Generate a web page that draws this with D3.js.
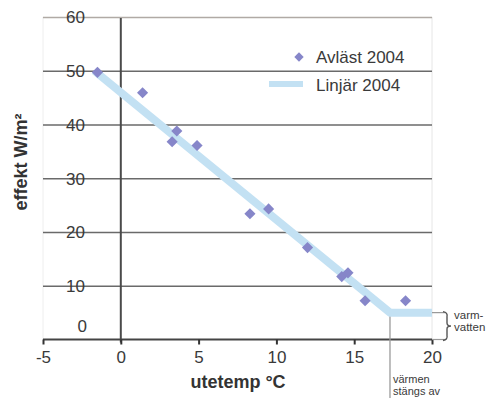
<!DOCTYPE html>
<html>
<head>
<meta charset="utf-8">
<script src="https://cdn.jsdelivr.net/npm/d3@7"></script>
<style>
  html, body { margin: 0; padding: 0; background: #fff; }
  svg { display: block; font-family: "Liberation Sans", Arial, Helvetica, sans-serif; }
</style>
</head>
<body>
<svg id="chart" width="492" height="398"></svg>
<script>
// ---- data ----
const tempValues   = [-1.5, 1.4, 3.6, 3.3, 4.9, 8.3, 9.5, 12.0, 14.2, 14.6, 15.7, 18.3];
const effektValues = [49.7, 45.9, 38.8, 36.8, 36.1, 23.4, 24.3, 17.1, 11.7, 12.4, 7.2, 7.2];
const lineTemp   = [-1.7, 17.3, 20];
const lineEffekt = [50, 5, 5];
const xTicks = [-5, 0, 5, 10, 15, 20];
const yTicks = [0, 10, 20, 30, 40, 50, 60];
const legendLabels = ["Avläst 2004", "Linjär 2004"];
const xTitle = "utetemp °C";
const yTitle = "effekt W/m²";
const noteRight = ["varm-", "vatten"];
const noteBottom = ["värmen", "stängs av"];

// ---- layout ----
const svg = d3.select("#chart");
const pLeft = 43, pRight = 432, pTop = 17, pBottom = 339.5;
const x = d3.scaleLinear().domain([-5, 20]).range([pLeft, pRight]);
const y = d3.scaleLinear().domain([0, 60]).range([pBottom, pTop]);

const textCol = "#3a3a3a";
const dotCol = "#8686c9";
const lineCol = "#c3e1f3";

// plot frame (faint)
svg.append("line").attr("x1", pLeft).attr("x2", pLeft).attr("y1", pTop).attr("y2", pBottom)
  .attr("stroke", "#eeeeee").attr("stroke-width", 1);
svg.append("line").attr("x1", pRight).attr("x2", pRight).attr("y1", pTop).attr("y2", pBottom)
  .attr("stroke", "#e6e6e6").attr("stroke-width", 1);

// horizontal gridlines + y labels via axis
const yAxis = d3.axisRight(y).tickValues(yTicks.filter(d => d > 0)).tickSize(pRight - pLeft).tickFormat(d3.format("d"));
const gy = svg.append("g").attr("transform", `translate(${pLeft},0)`).call(yAxis);
gy.select(".domain").remove();
gy.selectAll(".tick line")
  .attr("stroke", d => d === 60 ? "#b0aaa5" : "#6a6a6a")
  .attr("stroke-width", 1.6);
gy.selectAll(".tick text")
  .attr("x", 42).attr("dy", "0.35em").attr("text-anchor", "end")
  .attr("fill", textCol).attr("font-size", 17)
  .attr("font-family", "'Liberation Sans', Arial, sans-serif");
// zero label (above axis)
svg.append("text").attr("x", 87).attr("y", y(0) - 13).attr("dy", "0.35em")
  .attr("text-anchor", "end").attr("fill", textCol).attr("font-size", 17)
  .text(d3.format("d")(yTicks[0]));

// vertical y-axis line at x=0
svg.append("line").attr("x1", x(0)).attr("x2", x(0)).attr("y1", pTop + 1).attr("y2", pBottom + 3)
  .attr("stroke", "#4a4a4a").attr("stroke-width", 2);

// x axis
const xAxis = d3.axisBottom(x).tickValues(xTicks).tickSize(5).tickPadding(6).tickFormat(d3.format("d"));
const gx = svg.append("g").attr("transform", `translate(0,${pBottom})`).call(xAxis);
gx.select(".domain").attr("stroke", "#444").attr("stroke-width", 2).attr("d", `M${pLeft},0H${pRight}`);
gx.selectAll(".tick line").attr("stroke", "#333").attr("stroke-width", 2);
gx.selectAll(".tick text").attr("fill", textCol).attr("font-size", 17)
  .attr("font-family", "'Liberation Sans', Arial, sans-serif").text(d => d < 0 ? "-" + Math.abs(d) : d);

// knee vertical line
svg.append("line").attr("x1", x(lineTemp[1])).attr("x2", x(lineTemp[1]))
  .attr("y1", y(lineEffekt[1])).attr("y2", 398)
  .attr("stroke", "#9a9a9a").attr("stroke-width", 1.3);

// linear line
const lineGen = d3.line().x(d => x(d[0])).y(d => y(d[1]));
svg.append("path").datum(d3.zip(lineTemp, lineEffekt)).attr("d", lineGen)
  .attr("fill", "none").attr("stroke", lineCol).attr("stroke-width", 8)
  .attr("stroke-linejoin", "round");

// diamonds
const diamond = d3.symbol().type(d3.symbolSquare).size(62);
svg.append("g").selectAll("path").data(d3.zip(tempValues, effektValues)).join("path")
  .attr("d", diamond)
  .attr("transform", d => `translate(${x(d[0])},${y(d[1])}) rotate(45)`)
  .attr("fill", dotCol);

// legend
svg.append("path").attr("d", d3.symbol().type(d3.symbolSquare).size(44))
  .attr("transform", "translate(299,57) rotate(45)").attr("fill", dotCol);
svg.append("line").attr("x1", 269).attr("x2", 303).attr("y1", 84).attr("y2", 84)
  .attr("stroke", lineCol).attr("stroke-width", 6);
svg.selectAll(".leg").data(legendLabels).join("text")
  .attr("x", 316).attr("y", (d, i) => 57 + i * 28).attr("dy", "0.35em")
  .attr("fill", textCol).attr("font-size", 17).text(d => d);

// axis titles
svg.append("text").attr("x", 238).attr("y", 382).attr("dy", "0.35em").attr("text-anchor", "middle")
  .attr("font-weight", "bold").attr("font-size", 18).attr("fill", "#333").text(xTitle);
svg.append("text").attr("transform", "translate(21,162) rotate(-90)").attr("dy", "0.35em")
  .attr("text-anchor", "middle").attr("font-weight", "bold").attr("font-size", 18).attr("fill", "#333").text(yTitle);

// right annotation: brace + ticks
const yTop = y(lineEffekt[2]), yBot = y(0);
svg.append("line").attr("x1", pRight).attr("x2", 445).attr("y1", yTop).attr("y2", yTop).attr("stroke", "#999").attr("stroke-width", 1.2);
svg.append("line").attr("x1", pRight).attr("x2", 445).attr("y1", yBot).attr("y2", yBot).attr("stroke", "#999").attr("stroke-width", 1.2);
const ym = (yTop + yBot) / 2;
svg.append("path")
  .attr("d", `M443,${yTop - 1} Q448,${yTop} 447,${yTop + 4} L447,${ym - 3} Q447,${ym} 451,${ym} Q447,${ym} 447,${ym + 3} L447,${yBot - 4} Q448,${yBot} 443,${yBot + 1}`)
  .attr("fill", "none").attr("stroke", "#555").attr("stroke-width", 1.4);
svg.selectAll(".nr").data(noteRight).join("text")
  .attr("x", 454).attr("y", (d, i) => yTop + 2 + i * 12.5).attr("dy", "0.35em")
  .attr("font-size", 11.5).attr("fill", textCol).text(d => d);
svg.selectAll(".nb").data(noteBottom).join("text")
  .attr("x", 393).attr("y", (d, i) => 379 + i * 12).attr("dy", "0.35em")
  .attr("font-size", 11).attr("fill", textCol).text(d => d);
</script>
</body>
</html>
